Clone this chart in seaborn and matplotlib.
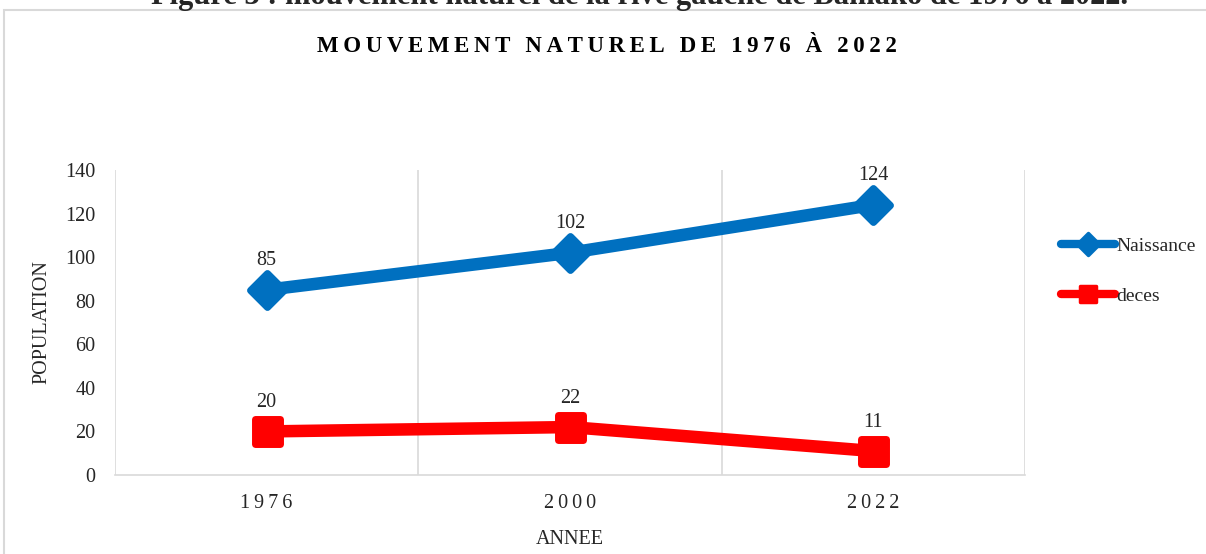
import pandas as pd
import numpy as np
import matplotlib
matplotlib.use('Agg')
import matplotlib.pyplot as plt
from matplotlib.markers import MarkerStyle
from matplotlib.patches import Rectangle
import seaborn as sns

# data
annees = ['1976', '2000', '2022']
naissance = [85, 102, 124]
deces = [20, 22, 11]

df = pd.DataFrame({
    'annee': annees * 2,
    'valeur': naissance + deces,
    'serie': ['Naissance'] * 3 + ['deces'] * 3,
})

sns.set_style('white')
plt.rcParams['font.family'] = ['Liberation Serif', 'DejaVu Serif']

fig = plt.figure(figsize=(12.06, 5.54), dpi=100)
ax = fig.add_axes([115 / 1206, 79 / 554, 910 / 1206, 305 / 554])

colors = {'Naissance': '#0070C0', 'deces': '#FF0000'}
sns.lineplot(data=df, x='annee', y='valeur', hue='serie', style='serie',
             palette=colors, markers={'Naissance': 'D', 'deces': 's'},
             dashes=False, linewidth=9, ax=ax, legend=False)

sizes = {'Naissance': 17, 'deces': 18}
for line, name in zip(ax.lines, ['Naissance', 'deces']):
    mk = 'D' if name == 'Naissance' else 's'
    line.set_marker(MarkerStyle(mk, joinstyle='round'))
    line.set_markersize(sizes[name])
    line.set_markeredgewidth(5)
    line.set_markeredgecolor(colors[name])
    line.set_solid_joinstyle('round')

# data labels
for serie, vals in [('Naissance', naissance), ('deces', deces)]:
    for i, v in enumerate(vals):
        ax.annotate(str(v), (i, v), xytext=(0, 14), textcoords='offset points',
                    ha='center', va='bottom', fontsize=14.5)

ax.set_xlim(-0.5, 2.5)
ax.set_ylim(0, 140)
ax.set_yticks(np.arange(0, 141, 20))
ax.set_xticks(range(3))
ax.set_xticklabels(['\u2009'.join(a) for a in annees], fontsize=14.5)
ax.tick_params(axis='y', labelsize=14.5, length=0, pad=14)
ax.tick_params(axis='x', length=0, pad=14)

for x in [-0.5, 0.5, 1.5, 2.5]:
    ax.axvline(x, color='#D9D9D9', lw=1.2, zorder=0)
for s in ['top', 'right', 'left']:
    ax.spines[s].set_visible(False)
ax.spines['bottom'].set_color('#D9D9D9')
ax.spines['bottom'].set_linewidth(1.2)

ax.set_xlabel('ANNEE', fontsize=14.5, labelpad=12)
ax.set_ylabel('POPULATION', fontsize=14.5, labelpad=10)

# legend
handles = []
for name in ['Naissance', 'deces']:
    mk = 'D' if name == 'Naissance' else 's'
    h, = ax.plot([], [], color=colors[name], lw=6,
                 marker=MarkerStyle(mk, joinstyle='round'), markersize=11,
                 markeredgecolor=colors[name], markeredgewidth=2.5,
                 solid_capstyle='round')
    handles.append(h)
fig.legend(handles, ['Naissance', 'deces'], loc='upper left',
           bbox_to_anchor=(1043 / 1206, 1 - 220 / 554), frameon=False,
           fontsize=14, handlelength=2.8, handletextpad=0.05, labelspacing=1.65)

# title
titre = 'MOUVEMENT NATUREL DE 1976 À 2022'
fig.text(607 / 1206, 1 - 46 / 554, '\u2009'.join(titre), ha='center', va='center',
         fontsize=16.5, fontweight='bold', color='#000000')

# figure caption, cut by the top edge
fig.text(640 / 1206, 1 - 4 / 554,
         'Figure 3 : mouvement naturel de la rive gauche de Bamako de 1976 à 2022.',
         ha='center', va='baseline', fontsize=22, fontweight='bold')

# chart frame
fig.patches.append(Rectangle((4 / 1206, -0.1), 1.2, 1 - 10 / 554 + 0.1,
                             transform=fig.transFigure, fill=False,
                             edgecolor='#D9D9D9', lw=1.5))

fig.savefig('out.png', dpi=100)
